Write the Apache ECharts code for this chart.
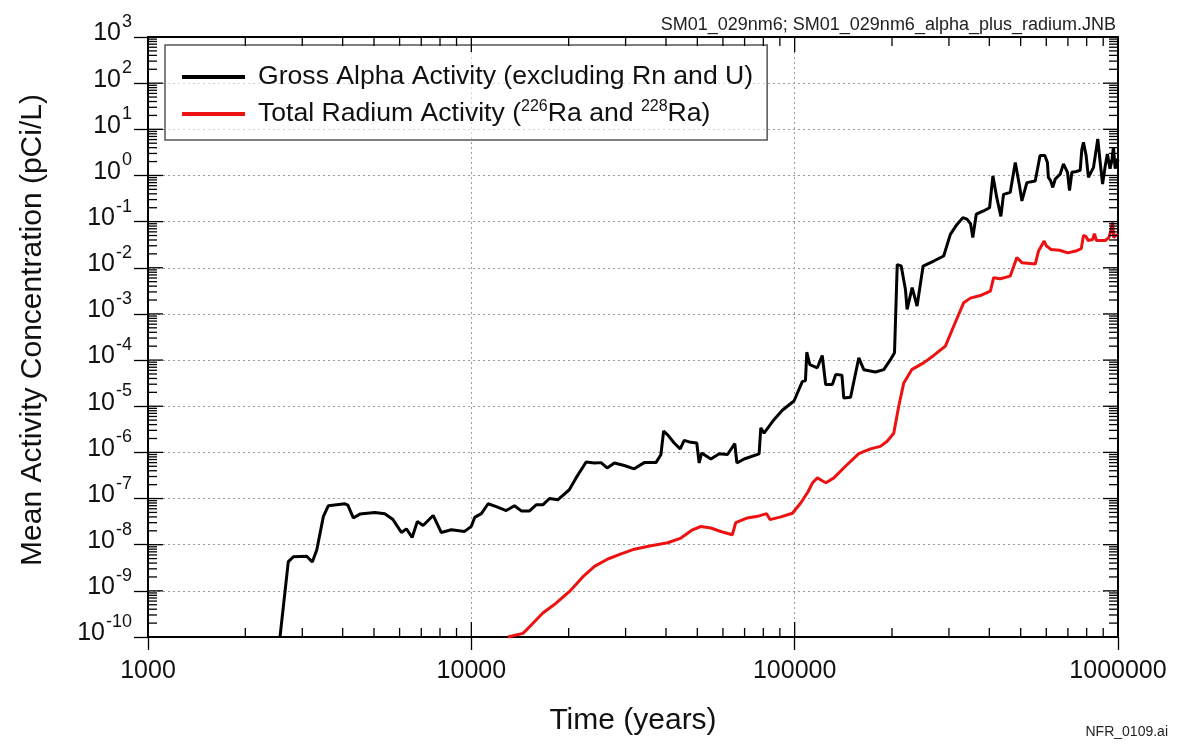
<!DOCTYPE html>
<html><head><meta charset="utf-8">
<script src="https://cdn.jsdelivr.net/npm/echarts@6/dist/echarts.min.js"></script>
<style>html,body{margin:0;padding:0;background:#fff}#c{width:1179px;height:748px}</style>
</head><body><div id="c"></div>
<script>
// ---- tick definitions ----
const xTicks = [1000, 10000, 100000, 1000000];
const yExponents = [-10, -9, -8, -7, -6, -5, -4, -3, -2, -1, 0, 1, 2, 3];
const minorMultipliers = [2, 3, 4, 5, 6, 7, 8, 9];

// ---- series names ----
const alphaName = 'Gross Alpha Activity (excluding Rn and U)';
const radiumName = 'Total Radium Activity (226Ra and 228Ra)';

// ---- Gross alpha (years, pCi/L) ----
const alphaTime = [
  2560, 2716, 2820, 3097, 3222, 3326, 3487, 3613, 4068, 4150,
  4315, 4522, 5031, 5398, 5725, 6080, 6300, 6560, 6810, 7090,
  7620, 8070, 8670, 9530, 10000, 10240, 10740, 11270, 11940, 12820,
  13600, 14270, 15130, 15870, 16640, 17440, 18500, 20090, 21080, 22650,
  24030, 25190, 26300, 27700, 29720, 31900, 34260, 37230, 38570, 39330,
  40480, 42400, 44260, 45540, 47720, 49800, 50660, 51560, 55060, 58460,
  61990, 65290, 66260, 69770, 77620, 78580, 80400, 86300, 91600, 99500,
  105600, 108000, 109000, 111400, 117500, 121700, 124700, 130800, 134000, 140000,
  141900, 148900, 157900, 163600, 177800, 188600, 197800, 203600, 207600, 213500,
  220100, 222700, 230900, 239100, 249600, 269200, 289000, 303000, 317700, 331400,
  340900, 350000, 355600, 364500, 383700, 400600, 410300, 421800, 434300, 442500,
  464100, 481200, 496000, 504400, 522600, 554600, 561000, 574000, 594000, 605000,
  609000, 619000, 628500, 639700, 662600, 678000, 686000, 698000, 708000, 720000,
  737000, 764000, 773000, 782000, 797000, 810000, 820000, 840000, 866000, 881000,
  896000, 913000, 927000, 945000, 957000, 968000, 980000, 995000, 1000000
];
const alphaValue = [
  1e-10, 4.3e-9, 5.5e-9, 5.6e-9, 4.2e-9, 7.7e-9, 4.1e-8, 7e-8, 7.7e-8, 7.2e-8,
  3.8e-8, 4.6e-8, 5e-8, 4.7e-8, 3.5e-8, 1.84e-8, 2.2e-8, 1.43e-8, 3.2e-8, 2.6e-8,
  4.3e-8, 1.84e-8, 2.1e-8, 1.94e-8, 2.5e-8, 3.9e-8, 4.7e-8, 7.7e-8, 6.7e-8, 5.5e-8,
  7e-8, 5.4e-8, 5.4e-8, 7.3e-8, 7.3e-8, 1e-7, 9.4e-8, 1.55e-7, 2.8e-7, 6.2e-7,
  5.9e-7, 6e-7, 4.6e-7, 5.9e-7, 5.2e-7, 4.4e-7, 6e-7, 6e-7, 8.9e-7, 2.9e-6,
  2.4e-6, 1.6e-6, 1.19e-6, 1.82e-6, 1.65e-6, 1.6e-6, 5.9e-7, 9.7e-7, 7.2e-7, 9.3e-7,
  9e-7, 1.55e-6, 5.9e-7, 7.2e-7, 9.3e-7, 3.4e-6, 2.6e-6, 5.1e-6, 8.2e-6, 1.3e-5,
  3.4e-5, 3.6e-5, 1.48e-4, 8e-5, 6.8e-5, 1.26e-4, 2.96e-5, 2.96e-5, 4.9e-5, 4.7e-5,
  1.5e-5, 1.57e-5, 1.12e-4, 6.2e-5, 5.5e-5, 6.2e-5, 1.02e-4, 1.44e-4, 1.17e-2, 1.1e-2,
  3.4e-3, 1.25e-3, 3.7e-3, 1.48e-3, 1.09e-2, 1.4e-2, 1.8e-2, 5.3e-2, 8.7e-2, 0.122,
  0.113, 0.09, 0.045, 0.145, 0.17, 0.2, 0.98, 0.33, 0.13, 0.39,
  0.43, 1.9, 0.59, 0.28, 0.7, 0.76, 0.77, 2.7, 2.7, 1.9,
  0.91, 0.77, 0.55, 0.84, 1.07, 1.78, 1.78, 1.17, 0.47, 1.17,
  1.2, 1.3, 3.7, 5.2, 2.7, 0.91, 0.91, 1.5, 6.2, 1.9,
  0.65, 1.6, 2.9, 1.4, 2.1, 4.1, 1.4, 2.3, 2.0
];

// ---- Total radium (years, pCi/L) ----
const radiumTime = [
  12970, 14450, 15140, 16640, 18280, 20090, 22110, 24030, 26430, 29050,
  31920, 35940, 40480, 44490, 48320, 51260, 55060, 59100, 64140, 65720,
  71420, 77620, 81900, 83900, 90600, 98400, 104400, 110000, 113600, 117600,
  122000, 125000, 132200, 143600, 157900, 171600, 184100, 193200, 202500, 209800,
  217500, 230700, 250500, 269200, 292500, 310300, 333300, 349400, 375000, 403000,
  412400, 432300, 464200, 486700, 504400, 554600, 567700, 591300, 600000, 620000,
  660000, 700000, 740000, 770000, 782000, 795000, 808000, 835000, 845000, 858000,
  913000, 937000, 950000, 962000, 970000, 990000, 1000000
];
const radiumValue = [
  1e-10, 1.2e-10, 1.67e-10, 3.3e-10, 5.4e-10, 9.6e-10, 2.0e-9, 3.4e-9, 4.9e-9, 6.3e-9,
  8e-9, 9.5e-9, 1.1e-8, 1.39e-8, 2.1e-8, 2.48e-8, 2.3e-8, 1.93e-8, 1.64e-8, 3.0e-8,
  3.8e-8, 4.2e-8, 4.7e-8, 3.5e-8, 4e-8, 4.8e-8, 8e-8, 1.4e-7, 2.2e-7, 2.8e-7,
  2.4e-7, 2.2e-7, 2.8e-7, 5e-7, 9.4e-7, 1.19e-6, 1.35e-6, 1.74e-6, 2.6e-6, 1e-5,
  3.2e-5, 6.3e-5, 8.7e-5, 1.26e-4, 2e-4, 5.4e-4, 1.75e-3, 2.2e-3, 2.5e-3, 3.1e-3,
  6.1e-3, 5.8e-3, 6.6e-3, 1.66e-2, 1.29e-2, 1.2e-2, 2.3e-2, 3.8e-2, 3.0e-2, 2.5e-2,
  2.4e-2, 2.1e-2, 2.3e-2, 2.6e-2, 5e-2, 4.8e-2, 3.9e-2, 4.1e-2, 5.5e-2, 3.9e-2,
  3.9e-2, 4.5e-2, 6.3e-2, 9.6e-2, 4.5e-2, 5.2e-2, 5e-2
];

// ---- build ----
const X_MIN = xTicks[0], X_MAX = xTicks[xTicks.length - 1];
const Y_MIN = Math.pow(10, yExponents[0]), Y_MAX = Math.pow(10, yExponents[yExponents.length - 1]);
const zip = (a, b) => a.map((t, i) => [t, b[i]]);

// tick marks: [xValue, yValue, length, kind]  kind 0 = x-tick, 1 = y-tick
const tickItems = [];
xTicks.forEach((d, i) => {
  tickItems.push([d, Y_MIN, 15, 0]);
  if (i < xTicks.length - 1) minorMultipliers.forEach(m => tickItems.push([m * d, Y_MIN, 9, 0]));
});
yExponents.forEach((e, i) => {
  const d = Math.pow(10, e);
  tickItems.push([X_MIN, d, 15, 1]);
  if (i < yExponents.length - 1) minorMultipliers.forEach(m => tickItems.push([X_MIN, m * d, 9, 1]));
});

function renderTick(params, api) {
  const v0 = api.value(0), v1 = api.value(1), len = api.value(2), kind = api.value(3);
  const style = { stroke: '#000', lineWidth: 1.3 };
  if (kind === 0) {
    const b = api.coord([v0, Y_MIN]), t = api.coord([v0, Y_MAX]);
    return { type: 'group', children: [
      { type: 'line', shape: { x1: b[0], y1: b[1], x2: b[0], y2: b[1] - len }, style },
      { type: 'line', shape: { x1: t[0], y1: t[1], x2: t[0], y2: t[1] + len }, style }
    ]};
  }
  const l = api.coord([X_MIN, v1]), r = api.coord([X_MAX, v1]);
  return { type: 'group', children: [
    { type: 'line', shape: { x1: l[0], y1: l[1], x2: l[0] + len, y2: l[1] }, style },
    { type: 'line', shape: { x1: r[0], y1: r[1], x2: r[0] - len, y2: r[1] }, style }
  ]};
}

const FONT = '"Liberation Sans", Arial, Helvetica, sans-serif';
const axisLineStyle = { color: '#000', width: 2 };
const gridStyle = { color: '#9a9a9a', width: 1, type: [2, 3] };

const chart = echarts.init(document.getElementById('c'), null, { renderer: 'canvas' });
chart.setOption({
  backgroundColor: '#fff',
  animation: false,
  textStyle: { fontFamily: FONT, color: '#111' },
  title: [
    { text: 'SM01_029nm6; SM01_029nm6_alpha_plus_radium.JNB', right: 58, top: 11,
      textStyle: { fontSize: 18, fontWeight: 'normal', color: '#222', fontFamily: FONT } },
    { text: 'NFR_0109.ai', right: 6, bottom: 4,
      textStyle: { fontSize: 14, fontWeight: 'normal', color: '#222', fontFamily: FONT } }
  ],
  grid: { left: 148, right: 61, top: 37, bottom: 111, containLabel: false },
  legend: {
    data: [alphaName, radiumName],
    orient: 'vertical', left: 165, top: 45,
    icon: 'rect', itemWidth: 63, itemHeight: 4, itemGap: 7,
    padding: [17, 14, 11, 17],
    borderColor: '#555', borderWidth: 1.5, borderRadius: 0,
    backgroundColor: 'rgba(255,255,255,0.6)',
    textStyle: {
      fontSize: 26.6, color: '#111', fontFamily: FONT, lineHeight: 30, padding: [0, 0, 0, 8],
      rich: { sup: { fontSize: 16, fontFamily: FONT, color: '#111', lineHeight: 16, verticalAlign: 'top' } }
    },
    formatter: function (name) {
      if (name === radiumName) return 'Total Radium Activity ({sup|226}Ra and {sup|228}Ra)';
      return name;
    }
  },
  xAxis: [
    {
      type: 'log', logBase: 10, min: X_MIN, max: X_MAX, interval: 1, position: 'bottom',
      axisLine: { show: true, lineStyle: axisLineStyle },
      axisTick: { show: true, inside: false, length: 13, lineStyle: { color: '#000', width: 1.3 } },
      axisLabel: { fontSize: 25, color: '#111', margin: 22, fontFamily: FONT,
        formatter: v => String(Math.round(v)) },
      splitLine: { show: true, lineStyle: gridStyle },
      minorTick: { show: false }, minorSplitLine: { show: false },
      name: 'Time (years)', nameLocation: 'middle', nameGap: 69,
      nameTextStyle: { fontSize: 30, color: '#111', fontFamily: FONT }
    },
    {
      type: 'log', logBase: 10, min: X_MIN, max: X_MAX, interval: 1, position: 'top',
      axisLine: { show: true, lineStyle: axisLineStyle },
      axisTick: { show: false }, axisLabel: { show: false }, splitLine: { show: false }
    }
  ],
  yAxis: [
    {
      type: 'log', logBase: 10, min: Y_MIN, max: Y_MAX, interval: 1, position: 'left',
      axisLine: { show: true, lineStyle: axisLineStyle },
      axisTick: { show: true, inside: false, length: 14, lineStyle: { color: '#000', width: 1.3 } },
      axisLabel: {
        margin: 16, color: '#111', fontFamily: FONT, padding: [0, 0, 15, 0],
        formatter: v => '{b|10}{s|' + Math.round(Math.log10(v)) + '}',
        rich: {
          b: { fontSize: 25, lineHeight: 25, color: '#111', fontFamily: FONT, padding: [8, 0, 0, 0] },
          s: { fontSize: 18, lineHeight: 18, color: '#111', fontFamily: FONT, padding: [0, 0, 15, 1] }
        }
      },
      splitLine: { show: true, lineStyle: gridStyle },
      name: 'Mean Activity Concentration (pCi/L)', nameLocation: 'middle', nameGap: 100,
      nameTextStyle: { fontSize: 30, color: '#111', fontFamily: FONT, padding: [0, 0, 0, 14] }
    },
    {
      type: 'log', logBase: 10, min: Y_MIN, max: Y_MAX, interval: 1, position: 'right',
      axisLine: { show: true, lineStyle: axisLineStyle },
      axisTick: { show: false }, axisLabel: { show: false }, splitLine: { show: false }
    }
  ],
  series: [
    {
      name: radiumName, type: 'line', data: zip(radiumTime, radiumValue),
      showSymbol: false, symbol: 'none', clip: true, z: 3,
      lineStyle: { color: '#ee1111', width: 3 }, itemStyle: { color: '#ee1111' }
    },
    {
      name: alphaName, type: 'line', data: zip(alphaTime, alphaValue),
      showSymbol: false, symbol: 'none', clip: true, z: 4,
      lineStyle: { color: '#000', width: 3 }, itemStyle: { color: '#000' }
    },
    {
      name: 'ticks', type: 'custom', data: tickItems, renderItem: renderTick,
      encode: { x: 0, y: 1 }, silent: true, z: 5, clip: false
    }
  ]
});
</script>
</body></html>
